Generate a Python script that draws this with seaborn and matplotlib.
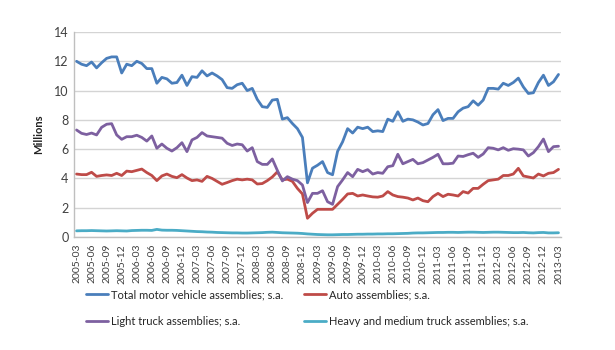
import pandas as pd
import numpy as np
import matplotlib
matplotlib.use("Agg")
import matplotlib.pyplot as plt
from matplotlib.ticker import MultipleLocator
import seaborn as sns

# monthly, s.a., millions of units, 2005-03 .. 2013-03
months = pd.period_range("2005-03", "2013-03", freq="M").strftime("%Y-%m").tolist()

total = [12.0, 11.8, 11.7, 11.95, 11.55, 11.9, 12.2, 12.3, 12.3, 11.2,
         11.8, 11.7, 12.0, 11.85, 11.5, 11.5, 10.5, 10.9, 10.8, 10.5,
         10.55, 11.05, 10.35, 10.95, 10.9, 11.35, 11.0, 11.2, 11.0, 10.75,
         10.2, 10.15, 10.4, 10.5, 10.0, 10.15, 9.4, 8.9, 8.85, 9.35,
         9.4, 8.05, 8.15, 7.75, 7.4, 6.8, 3.7, 4.7, 4.9, 5.15,
         4.4, 4.25, 5.85, 6.5, 7.4, 7.1, 7.5, 7.4, 7.5, 7.2,
         7.25, 7.2, 8.05, 7.9, 8.55, 7.9, 8.05, 8.0, 7.85, 7.65,
         7.75, 8.35, 8.7, 7.95, 8.1, 8.1, 8.55, 8.8, 8.9, 9.3,
         9.0, 9.35, 10.15, 10.15, 10.1, 10.5, 10.35, 10.55, 10.85, 10.25,
         9.8, 9.85, 10.55, 11.05, 10.35, 10.6, 11.1]

auto = [4.3, 4.26, 4.26, 4.42, 4.14, 4.2, 4.24, 4.2, 4.35, 4.2,
        4.5, 4.46, 4.55, 4.64, 4.4, 4.2, 3.85, 4.17, 4.3, 4.14,
        4.05, 4.26, 4.03, 3.85, 3.9, 3.8, 4.14, 4.0, 3.8, 3.6,
        3.72, 3.85, 3.95, 3.9, 3.95, 3.9, 3.62, 3.65, 3.85, 4.1,
        4.45, 3.9, 3.95, 3.8, 3.32, 2.94, 1.28, 1.62, 1.89, 1.89,
        1.89, 1.89, 2.23, 2.57, 2.94, 2.98, 2.8, 2.87, 2.8, 2.74,
        2.72, 2.8, 3.1, 2.87, 2.76, 2.72, 2.66, 2.53, 2.66, 2.48,
        2.41, 2.76, 2.98, 2.76, 2.92, 2.87, 2.8, 3.1, 3.0, 3.32,
        3.32, 3.6, 3.85, 3.9, 3.95, 4.2, 4.2, 4.3, 4.69, 4.17,
        4.1, 4.03, 4.3, 4.17, 4.35, 4.4, 4.62]

light = [7.31, 7.08, 7.0, 7.1, 6.97, 7.49, 7.7, 7.74, 6.97, 6.67,
         6.85, 6.85, 6.95, 6.8, 6.55, 6.9, 6.06, 6.35, 6.06, 5.87,
         6.1, 6.44, 5.83, 6.63, 6.8, 7.13, 6.9, 6.85, 6.8, 6.75,
         6.4, 6.25, 6.35, 6.3, 5.87, 6.1, 5.15, 4.96, 4.96, 5.33,
         4.55, 3.83, 4.12, 3.95, 3.85, 3.55, 2.35, 2.98, 2.98, 3.16,
         2.41, 2.23, 3.44, 3.9, 4.4, 4.12, 4.62, 4.46, 4.6, 4.3,
         4.4, 4.35, 4.8, 4.87, 5.65, 5.0, 5.15, 5.3, 5.0, 5.08,
         5.26, 5.44, 5.65, 5.0, 5.0, 5.04, 5.53, 5.5, 5.62, 5.72,
         5.44, 5.67, 6.1, 6.06, 5.95, 6.1, 5.92, 6.03, 6.0, 5.95,
         5.53, 5.76, 6.17, 6.69, 5.83, 6.17, 6.2]

heavy = [0.42, 0.43, 0.43, 0.44, 0.43, 0.42, 0.41, 0.42, 0.43, 0.42,
         0.41, 0.44, 0.45, 0.46, 0.46, 0.45, 0.52, 0.47, 0.46, 0.46,
         0.45, 0.43, 0.41, 0.39, 0.37, 0.36, 0.34, 0.33, 0.31, 0.30,
         0.29, 0.28, 0.28, 0.27, 0.27, 0.28, 0.29, 0.30, 0.32, 0.33,
         0.31, 0.29, 0.28, 0.27, 0.26, 0.24, 0.21, 0.19, 0.17, 0.16,
         0.15, 0.15, 0.16, 0.17, 0.17, 0.18, 0.19, 0.19, 0.20, 0.20,
         0.21, 0.21, 0.22, 0.22, 0.23, 0.24, 0.25, 0.27, 0.28, 0.28,
         0.29, 0.30, 0.31, 0.31, 0.32, 0.32, 0.31, 0.32, 0.33, 0.33,
         0.32, 0.31, 0.32, 0.33, 0.33, 0.32, 0.31, 0.30, 0.30, 0.31,
         0.29, 0.28, 0.30, 0.31, 0.28, 0.28, 0.29]

names = ["Total motor vehicle assemblies; s.a.",
         "Auto assemblies; s.a.",
         "Light truck assemblies; s.a.",
         "Heavy and medium truck assemblies; s.a."]
colors = ["#4a7ebb", "#be4b48", "#7d60a0", "#4bacc6"]

df = pd.DataFrame({names[0]: total, names[1]: auto,
                   names[2]: light, names[3]: heavy})
df["idx"] = np.arange(len(months))
long = df.melt(id_vars="idx", var_name="series", value_name="val")

sns.set_style("white")
plt.rcParams["font.family"] = ["Lato", "DejaVu Sans"]

fig = plt.figure(figsize=(6.15, 3.5), dpi=100)
ax = fig.add_axes([74 / 615, 1 - 237 / 350, 487 / 615, 205 / 350])

sns.lineplot(data=long, x="idx", y="val", hue="series", hue_order=names,
             palette=colors, linewidth=2, ax=ax, legend=False)

ax.set_xlim(-0.5, len(months) - 0.5)
ax.set_ylim(0, 14)
ax.set_yticks(range(0, 15, 2))
ax.set_xticks(range(0, len(months), 3))
ax.set_xticklabels(months[::3], rotation=90, fontsize=7.5, color="#404040")
ax.xaxis.set_minor_locator(MultipleLocator(1))
ax.tick_params(axis="x", which="both", length=3, color="#a6a6a6", pad=2)
ax.tick_params(axis="y", length=0, labelsize=9, labelcolor="#404040", pad=4)
ax.grid(axis="y", color="#d4d4d4", linewidth=1)
ax.grid(axis="x", visible=False)
ax.set_axisbelow(True)
for s in ["top", "right"]:
    ax.spines[s].set_visible(False)
for s in ["left", "bottom"]:
    ax.spines[s].set_color("#bfbfbf")
    ax.spines[s].set_linewidth(1)
ax.set_xlabel("")
ax.set_ylabel("Millions", fontsize=8, fontweight="bold", color="#222222", labelpad=7)

handles = [plt.Line2D([], [], color=c, linewidth=2) for c in colors]
leg_kw = dict(frameon=False, fontsize=8, handlelength=2.0, handletextpad=0.25,
              labelspacing=1.4, borderpad=0, borderaxespad=0, loc="upper left")
fig.legend([handles[0], handles[2]], [names[0], names[2]],
           bbox_to_anchor=(86 / 615, 1 - 289 / 350), **leg_kw)
fig.legend([handles[1], handles[3]], [names[1], names[3]],
           bbox_to_anchor=(304 / 615, 1 - 289 / 350), **leg_kw)

fig.savefig("out.png", dpi=100)
